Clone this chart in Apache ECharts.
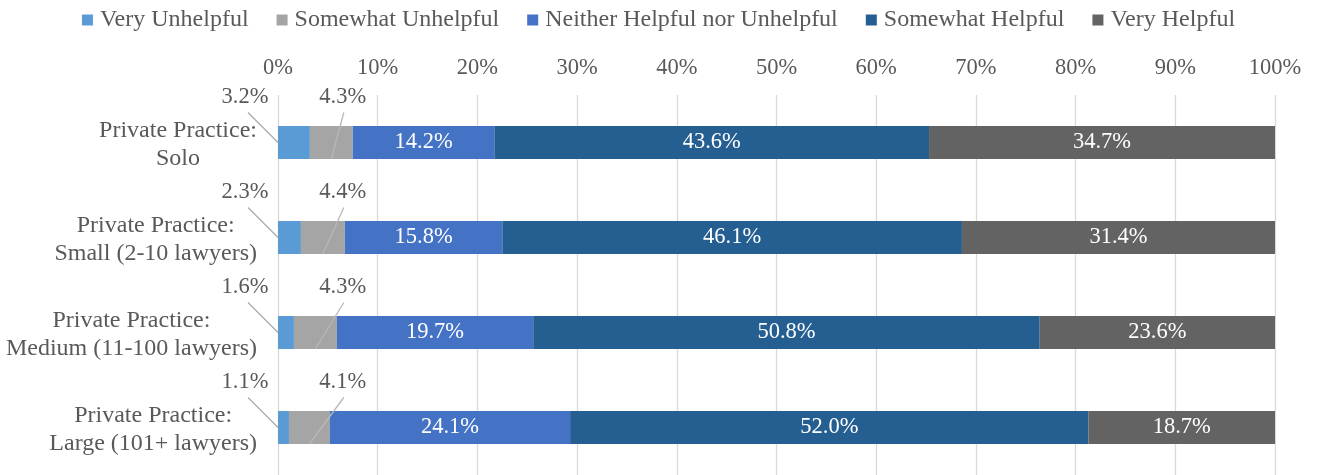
<!DOCTYPE html>
<html>
<head>
<meta charset="utf-8">
<script src="https://cdn.jsdelivr.net/npm/echarts@6/dist/echarts.min.js"></script>
<style>
  html, body { margin: 0; padding: 0; background: #ffffff; }
  #chart { width: 1317px; height: 475px; }
</style>
</head>
<body>
<div id="chart"></div>
<script>
const categories = [
  'Private Practice:\nSolo',
  'Private Practice:\nSmall (2-10 lawyers)',
  'Private Practice:\nMedium (11-100 lawyers)',
  'Private Practice:\nLarge (101+ lawyers)'
];
const seriesNames = ['Very Unhelpful', 'Somewhat Unhelpful', 'Neither Helpful nor Unhelpful', 'Somewhat Helpful', 'Very Helpful'];
const veryUnhelpful     = [3.2, 2.3, 1.6, 1.1];
const somewhatUnhelpful = [4.3, 4.4, 4.3, 4.1];
const neither           = [14.2, 15.8, 19.7, 24.1];
const somewhatHelpful   = [43.6, 46.1, 50.8, 52.0];
const veryHelpful       = [34.7, 31.4, 23.6, 18.7];
const xTicks = [0, 10, 20, 30, 40, 50, 60, 70, 80, 90, 100];

const colors = ['#5B9BD5', '#A5A5A5', '#4472C4', '#255E91', '#636363'];
const values = [veryUnhelpful, somewhatUnhelpful, neither, somewhatHelpful, veryHelpful];
const FONT = '"Liberation Serif", "Times New Roman", serif';
const TXT = '#595959';

const chart = echarts.init(document.getElementById('chart'), null, { renderer: 'canvas' });

const series = seriesNames.map((name, s) => ({
  name: name,
  type: 'bar',
  stack: 'total',
  barWidth: 33,
  itemStyle: { color: colors[s] },
  label: {
    show: s >= 2,
    position: 'inside',
    color: '#ffffff',
    fontSize: 22.5,
    fontFamily: FONT,
    formatter: p => p.value.toFixed(1) + '%'
  },
  emphasis: { disabled: true },
  data: values[s]
}));

chart.setOption({
  animation: false,
  color: colors,
  legend: {
    top: 3,
    left: 'center',
    itemWidth: 11,
    itemHeight: 11,
    itemGap: 28,
    icon: 'rect',
    textStyle: { color: TXT, fontSize: 24, fontFamily: FONT, padding: [0, 0, 0, 2] },
    data: seriesNames
  },
  grid: { left: 278, right: 42, top: 95, height: 383, containLabel: false },
  xAxis: {
    type: 'value',
    position: 'top',
    min: xTicks[0],
    max: xTicks[xTicks.length - 1],
    interval: xTicks[1] - xTicks[0],
    axisLine: { show: false },
    axisTick: { show: false },
    splitLine: { show: true, lineStyle: { color: '#d9d9d9', width: 1.3 } },
    axisLabel: { color: TXT, fontSize: 22.5, fontFamily: FONT, margin: 15, formatter: '{value}%' }
  },
  yAxis: {
    type: 'category',
    inverse: true,
    data: categories,
    axisLine: { show: false },
    axisTick: { show: false },
    axisLabel: {
      margin: 21,
      color: TXT,
      fontSize: 24,
      fontFamily: FONT,
      lineHeight: 28,
      padding: [4, 0, 0, 0],
      formatter: v => v.split('\n').map(l => '{c|' + l + '}').join('\n'),
      rich: { c: { align: 'center', color: TXT, fontSize: 24, fontFamily: FONT, lineHeight: 28 } }
    }
  },
  series: series
});

// Outside labels with leader lines for the two small segments
const LABEL_B_X = 6.5;
const graphics = [];
for (let i = 0; i < categories.length; i++) {
  const px = v => chart.convertToPixel({ gridIndex: 0 }, [v, i]);
  const yc = px(0)[1];
  const x0 = px(0)[0];
  const x1 = px(veryUnhelpful[i])[0];
  const x2 = px(veryUnhelpful[i] + somewhatUnhelpful[i])[0];
  const ax = x0 - 33, ay = yc - 45;
  const bx = px(LABEL_B_X)[0], by = yc - 45;
  graphics.push(
    { type: 'line', z: 20, shape: { x1: ax + 3, y1: ay + 15, x2: x0, y2: yc }, style: { stroke: '#a9a9a9', lineWidth: 1.3 } },
    { type: 'line', z: 20, shape: { x1: bx + 1, y1: by + 15, x2: (x1 + x2) / 2, y2: yc + 16.5 }, style: { stroke: '#b8b8b8', lineWidth: 1.3 } },
    { type: 'text', z: 21, x: ax, y: ay, style: { text: veryUnhelpful[i].toFixed(1) + '%', fill: TXT, fontSize: 22.5, fontFamily: FONT, align: 'center', verticalAlign: 'middle' } },
    { type: 'text', z: 21, x: bx, y: by, style: { text: somewhatUnhelpful[i].toFixed(1) + '%', fill: TXT, fontSize: 22.5, fontFamily: FONT, align: 'center', verticalAlign: 'middle' } }
  );
}
chart.setOption({ graphic: graphics });
</script>
</body>
</html>
